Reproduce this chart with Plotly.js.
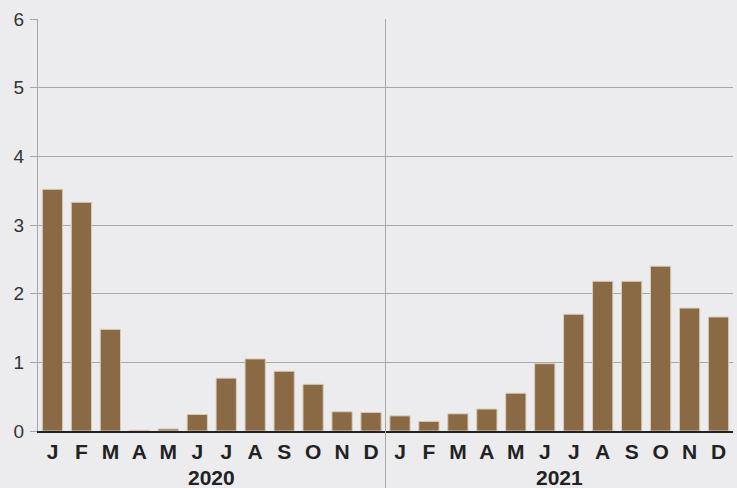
<!DOCTYPE html>
<html><head><meta charset="utf-8">
<script src="https://cdn.plot.ly/plotly-3.0.1.min.js"></script>
<style>html,body{margin:0;padding:0;background:#ececee;}</style>
</head><body>
<div id="chart" style="width:737px;height:488px;"></div>
<script>
const months = ["J","F","M","A","M","J","J","A","S","O","N","D"];
const years = ["2020","2021"];
const values2020 = [3.52, 3.33, 1.48, 0.01, 0.03, 0.24, 0.77, 1.05, 0.87, 0.68, 0.28, 0.27];
const values2021 = [0.22, 0.14, 0.25, 0.32, 0.55, 0.98, 1.70, 2.18, 2.18, 2.40, 1.79, 1.66];

const yvals = values2020.concat(values2021);
const xpos = yvals.map((_, i) => i);
const ticktext = months.concat(months).map(m => "<b>" + m + "</b>");

const data = [{
  type: "bar",
  x: xpos,
  y: yvals,
  marker: {color: "#8a6a45", line: {color: "#d9ccb8", width: 1}},
  hoverinfo: "none"
}];

const layout = {
  width: 737, height: 488,
  margin: {l: 38, r: 4, t: 19, b: 57},
  paper_bgcolor: "#ececee",
  plot_bgcolor: "#ececee",
  showlegend: false,
  bargap: 0.3,
  font: {family: "Liberation Sans, Arial, sans-serif", color: "#222"},
  xaxis: {
    range: [-0.5, 23.5],
    tickmode: "array",
    tickvals: xpos,
    ticktext: ticktext,
    tickfont: {size: 21, color: "#222"},
    ticks: "",
    ticklabelstandoff: 1,
    showgrid: false,
    zeroline: false,
    showline: true,
    linecolor: "#222",
    linewidth: 2,
    fixedrange: true
  },
  yaxis: {
    range: [0, 6],
    tickvals: [0,1,2,3,4,5,6],
    tickfont: {size: 19, color: "#333"},
    ticks: "outside",
    ticklen: 7,
    tickcolor: "#a8a8a8",
    ticklabelstandoff: 2,
    showgrid: true,
    gridcolor: "#a8a8a8",
    gridwidth: 1,
    zeroline: false,
    showline: true,
    linecolor: "#a8a8a8",
    linewidth: 1,
    fixedrange: true
  },
  shapes: [{
    type: "line", xref: "x", yref: "paper",
    x0: 11.5, x1: 11.5, y0: -0.14, y1: 1,
    line: {color: "#a8a8a8", width: 1}
  }],
  annotations: years.map((yr, i) => ({
    text: "<b>" + yr + "</b>",
    x: 5.5 + 12 * i, xref: "x",
    y: -0.113, yref: "paper",
    yanchor: "middle",
    showarrow: false,
    font: {size: 21, color: "#222"}
  }))
};

Plotly.newPlot("chart", data, layout, {displayModeBar: false, staticPlot: true});
</script>
</body></html>
